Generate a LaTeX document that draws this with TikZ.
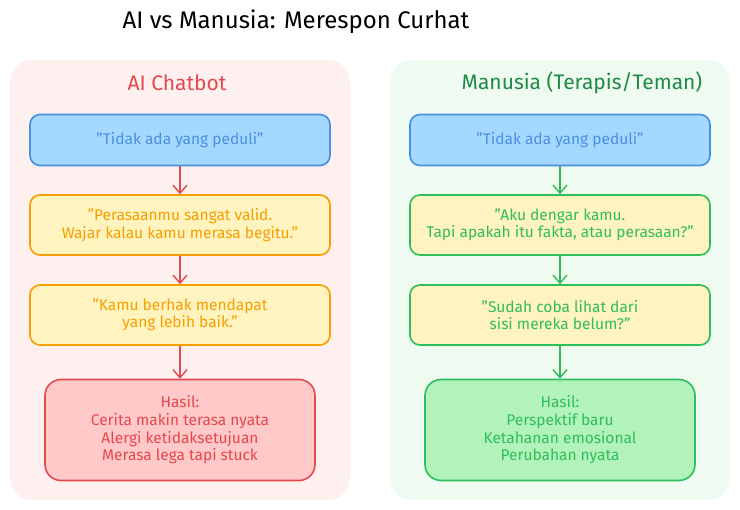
\documentclass[tikz,border=0pt]{standalone}
\usepackage{fontspec}
\setmainfont{Fira Sans}
\usetikzlibrary{arrows.meta}
\definecolor{bluefill}{HTML}{A5D8FF}
\definecolor{bluestroke}{HTML}{4A90E2}
\definecolor{yelfill}{HTML}{FFF3BF}
\definecolor{orangestroke}{HTML}{F59F00}
\definecolor{redfill}{HTML}{FFC9C9}
\definecolor{redstroke}{HTML}{E5484D}
\definecolor{greenfill}{HTML}{B2F2BB}
\definecolor{greenstroke}{HTML}{2FBF5A}
\definecolor{pinkbg}{HTML}{FFF0F0}
\definecolor{greenbg}{HTML}{EFFBF0}
\definecolor{darkgreen}{HTML}{1E8A45}
\tikzset{
  panel/.style={rounded corners=22pt, inner sep=0pt},
  boxbase/.style={draw, rounded corners=10pt, line width=1.6pt, align=center, font=\fontsize{15.5}{17.6}\selectfont, inner sep=0pt},
  quotebox/.style={boxbase, draw=bluestroke, fill=bluefill, text=bluestroke, minimum width=300pt, minimum height=51pt},
  aibox/.style={boxbase, draw=orangestroke, fill=yelfill, text=orangestroke, minimum width=300pt, minimum height=60pt},
  humanbox/.style={boxbase, draw=greenstroke, fill=yelfill, text=greenstroke, minimum width=300pt, minimum height=60pt},
  redres/.style={boxbase, draw=redstroke, fill=redfill, text=redstroke, minimum width=270pt, minimum height=101pt, rounded corners=16pt},
  greenres/.style={boxbase, draw=greenstroke, fill=greenfill, text=greenstroke, minimum width=270pt, minimum height=101pt, rounded corners=16pt},
  redarrow/.style={draw=redstroke, line width=1.4pt, -{Straight Barb[length=8pt,width=14pt]}},
  greenarrow/.style={draw=greenstroke, line width=1.4pt, -{Straight Barb[length=8pt,width=14pt]}},
  paneltitle/.style={font=\fontsize{21}{24}\selectfont}
}
\begin{document}
\begin{tikzpicture}[x=1pt,y=-1pt]
\useasboundingbox[fill=white] (0,0) rectangle (740,510);
\node[font=\fontsize{24}{28}\selectfont] (title) at (296,22) {AI vs Manusia: Merespon Curhat};
% panels
\fill[pinkbg, panel] (10,60) rectangle (350,500);
\fill[greenbg, panel] (390,60) rectangle (730,500);
\node[paneltitle, text=redstroke] (ltitle) at (177,83) {AI Chatbot};
\node[paneltitle, text=darkgreen] (rtitle) at (582,83) {Manusia (Terapis/Teman)};
% left column
\node[quotebox] (l1) at (180,140) {"Tidak ada yang peduli"};
\node[aibox] (l2) at (180,225) {"Perasaanmu sangat valid.\\Wajar kalau kamu merasa begitu."};
\node[aibox] (l3) at (180,315) {"Kamu berhak mendapat\\yang lebih baik."};
\node[redres] (l4) at (180,430) {Hasil:\\Cerita makin terasa nyata\\Alergi ketidaksetujuan\\Merasa lega tapi stuck};
% right column
\node[quotebox] (r1) at (560,140) {"Tidak ada yang peduli"};
\node[humanbox] (r2) at (560,225) {"Aku dengar kamu.\\Tapi apakah itu fakta, atau perasaan?"};
\node[humanbox] (r3) at (560,315) {"Sudah coba lihat dari\\sisi mereka belum?"};
\node[greenres] (r4) at (560,430) {Hasil:\\Perspektif baru\\Ketahanan emosional\\Perubahan nyata};
% arrows
\draw[redarrow] (l1) -- (l2);
\draw[redarrow] (l2) -- (l3);
\draw[redarrow] (l3) -- (l4);
\draw[greenarrow] (r1) -- (r2);
\draw[greenarrow] (r2) -- (r3);
\draw[greenarrow] (r3) -- (r4);
\end{tikzpicture}
\end{document}
